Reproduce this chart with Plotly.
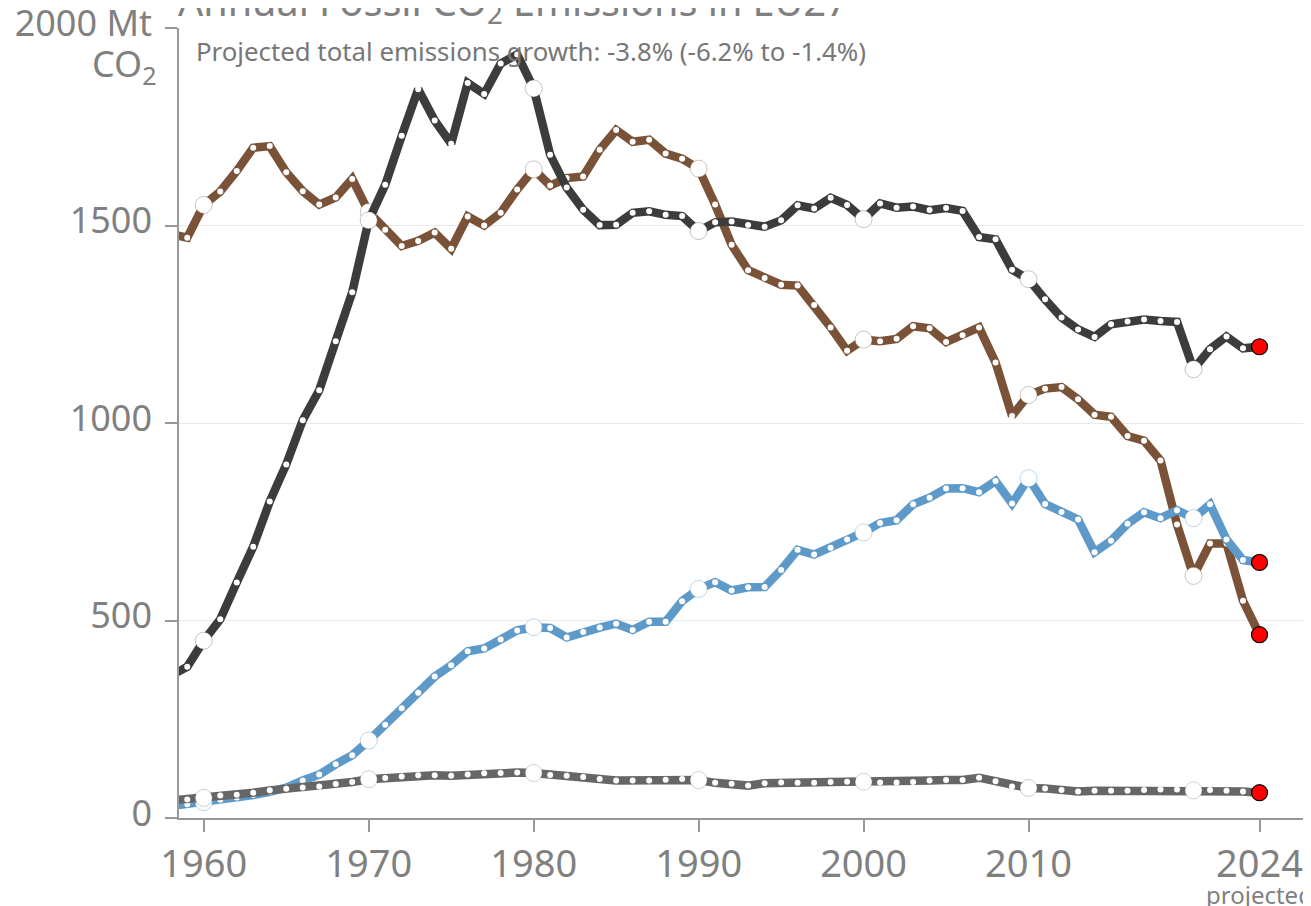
import plotly.graph_objects as go

years = list(range(1958, 2025))

oil = [360, 383, 449, 503, 596, 687, 801, 895, 1007, 1083, 1207, 1331, 1513, 1603, 1727, 1845,
       1766, 1707, 1861, 1833, 1910, 1933, 1847, 1679, 1596, 1540, 1501, 1502, 1532, 1536, 1527,
       1524, 1486, 1508, 1510, 1501, 1497, 1513, 1551, 1543, 1570, 1552, 1516, 1556, 1545, 1548,
       1539, 1544, 1537, 1471, 1465, 1388, 1364, 1313, 1267, 1237, 1218, 1250, 1257, 1262, 1258,
       1256, 1136, 1187, 1219, 1189, 1193]

coal = [1478, 1469, 1552, 1586, 1638, 1697, 1701, 1635, 1587, 1553, 1571, 1618, 1534, 1489, 1448,
        1461, 1482, 1441, 1523, 1500, 1532, 1591, 1642, 1601, 1620, 1624, 1692, 1742, 1712, 1717,
        1682, 1669, 1644, 1553, 1451, 1387, 1367, 1350, 1348, 1299, 1242, 1183, 1211, 1207, 1213,
        1245, 1240, 1205, 1222, 1242, 1153, 1018, 1071, 1087, 1091, 1060, 1021, 1016, 967, 955,
        905, 743, 613, 695, 695, 550, 464]

gas = [30, 35, 40, 46, 52, 58, 66, 77, 95, 110, 136, 159, 196, 236, 278, 317, 358, 387, 422, 429,
       452, 475, 483, 481, 457, 471, 482, 492, 476, 497, 497, 549, 580, 597, 576, 584, 585, 628,
       679, 667, 684, 705, 723, 747, 754, 794, 811, 834, 835, 825, 853, 796, 860, 795, 775, 756,
       673, 702, 745, 774, 759, 779, 759, 794, 705, 653, 647]

cement = [44, 47, 51, 57, 59, 64, 70, 74, 77, 80, 86, 91, 98, 101, 105, 108, 108, 107, 110, 113,
          114, 115, 114, 109, 107, 104, 99, 95, 95, 95, 97, 99, 96, 89, 87, 82, 88, 90, 89, 89,
          91, 92, 92, 90, 90, 91, 95, 96, 96, 102, 93, 80, 76, 75, 71, 67, 69, 69, 69, 71, 72,
          72, 70, 71, 69, 67, 64]

x_tickvals = [1960, 1970, 1980, 1990, 2000, 2010, 2024]
x_ticktext = ["1960", "1970", "1980", "1990", "2000", "2010", "2024"]
y_tickvals = [0, 500, 1000, 1500, 2000]
y_ticktext = ["0", "500", "1000", "1500", "2000 Mt"]
big_years = [1960, 1970, 1980, 1990, 2000, 2010, 2020]

title_text = "Annual Fossil CO<sub>2</sub> Emissions in EU27"
subtitle_text = "Projected total emissions growth: -3.8% (-6.2% to -1.4%)"

FONT = "Noto Sans, Liberation Sans, Arial, sans-serif"
GREY = "#808080"

series = [
    ("Coal", coal, "#7a5238", "rgba(122,82,56,0.35)"),
    ("Oil", oil, "#3c3c3c", "rgba(60,60,60,0.3)"),
    ("Gas", gas, "#5e9ac9", "rgba(94,154,201,0.4)"),
    ("Cement", cement, "#666666", "rgba(102,102,102,0.3)"),
]

fig = go.Figure()
for name, vals, col, light in series:
    hist_x = years[:-1]
    hist_y = vals[:-1]
    fig.add_trace(go.Scatter(
        x=years, y=vals, mode="lines", name=name,
        line=dict(color=col, width=8.5), hoverinfo="skip"))
    fig.add_trace(go.Scatter(
        x=hist_x, y=hist_y, mode="markers", name=name,
        marker=dict(color="white", size=6, line=dict(width=0)), hoverinfo="skip"))
    by = [vals[years.index(y)] for y in big_years]
    fig.add_trace(go.Scatter(
        x=big_years, y=by, mode="markers", name=name,
        marker=dict(color="white", size=17, line=dict(width=1, color=light)), hoverinfo="skip"))
    fig.add_trace(go.Scatter(
        x=[years[-1]], y=[vals[-1]], mode="markers", name=name,
        marker=dict(color="#ff0000", size=16, line=dict(width=1.2, color="black")), hoverinfo="skip"))

# the page body has an 8px margin, so the figure is offset by 8px; margins compensate
fig.update_layout(
    width=1311, height=906,
    margin=dict(l=171, r=10, t=20, b=96),
    plot_bgcolor="white", paper_bgcolor="white",
    showlegend=False,
    font=dict(family=FONT, color=GREY),
    xaxis=dict(range=[1958.5, 2027], tickvals=x_tickvals, ticktext=x_ticktext,
               ticks="outside", ticklen=12, tickwidth=1.5, tickcolor="#999999",
               showline=True, linecolor="#999999", linewidth=1.5, automargin=False,
               showgrid=False, zeroline=False, ticklabeloverflow="allow",
               tickfont=dict(size=38, color=GREY, family=FONT)),
    yaxis=dict(range=[0, 2000], tickvals=y_tickvals, ticktext=y_ticktext,
               ticks="outside", ticklen=12, tickwidth=1.5, tickcolor="#999999",
               showline=True, linecolor="#999999", linewidth=1.5, automargin=False,
               showgrid=True, gridcolor="#e9e9e9", gridwidth=1, zeroline=False,
               ticklabelstandoff=6, ticklabelshift=-5, ticklabeloverflow="allow",
               tickfont=dict(size=36, color=GREY, family=FONT)),
)

fig.add_annotation(xref="paper", yref="paper", x=0, y=1, xanchor="right", yanchor="middle",
                   xshift=-20, yshift=-37, text="CO<sub>2</sub>", showarrow=False,
                   font=dict(size=36, color=GREY, family=FONT))
fig.add_annotation(xref="paper", yref="paper", x=0, y=1, xanchor="left", yanchor="middle",
                   xshift=-3, yshift=25, text=title_text, showarrow=False,
                   font=dict(size=39.5, color=GREY, family=FONT))
fig.add_annotation(xref="paper", yref="paper", x=0, y=1, xanchor="left", yanchor="middle",
                   xshift=15, yshift=-23, text=subtitle_text, showarrow=False,
                   font=dict(size=25.8, color="#777777", family=FONT))
fig.add_annotation(xref="x", yref="paper", x=2024, y=0, xanchor="center", yanchor="middle",
                   yshift=-76, text="projected", showarrow=False,
                   font=dict(size=24, color=GREY, family=FONT))

fig.write_html("out.html")
